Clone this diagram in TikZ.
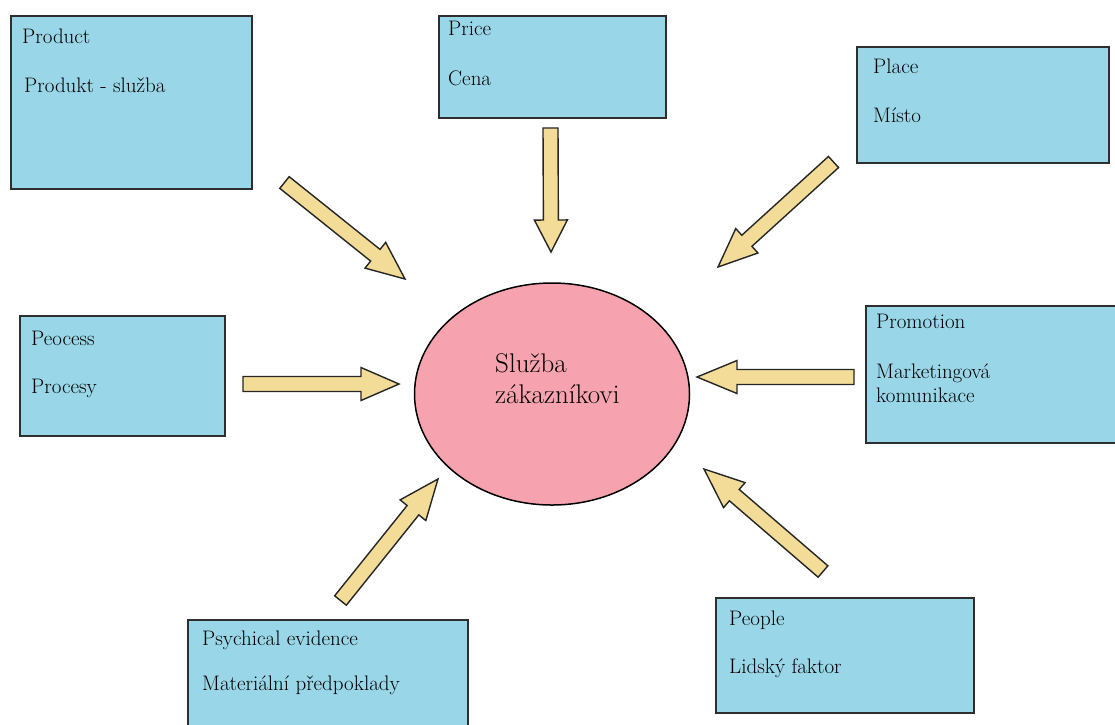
\documentclass[tikz,border=0pt]{standalone}
\usepackage{fontspec}
\usetikzlibrary{calc}
\definecolor{boxfill}{HTML}{98D6E8}
\definecolor{arrfill}{HTML}{F2DC98}
\definecolor{ellfill}{HTML}{F7A3AF}
\definecolor{edgecol}{HTML}{2E2E2E}
\tikzset{
  boxnode/.style={draw=edgecol, line width=1.5pt, fill=boxfill, anchor=north west, inner sep=0pt},
  txt/.style={anchor=base west, inner sep=0pt, font=\fontsize{21}{25}\selectfont, text=black},
  bigtxt/.style={anchor=base west, inner sep=0pt, font=\fontsize{27}{32}\selectfont, text=black},
  blockarr/.style={draw=black!85, line width=1.4pt, fill=arrfill, line join=miter}
}
\newcommand\blockarrow[3]{%
  \coordinate (neck) at ($(#2)!#3!(#1)$);
  \draw[blockarr] ($(#1)!7.5pt!90:(#2)$) -- ($(neck)!7.5pt!90:(#2)$) -- ($(neck)!16.5pt!90:(#2)$)
    -- (#2) -- ($(neck)!16.5pt!-90:(#2)$) -- ($(neck)!7.5pt!-90:(#2)$) -- ($(#1)!7.5pt!-90:(#2)$) -- cycle;
}
\begin{document}
\begin{tikzpicture}[x=1pt, y=-1pt]
\useasboundingbox (0,0) rectangle (1115,724);
\fill[white] (0,0) rectangle (1115,724);

% boxes
\node[boxnode, minimum width=241pt, minimum height=173pt] (product) at (10,15) {};
\node[boxnode, minimum width=227pt, minimum height=102pt] (price) at (438,15) {};
\node[boxnode, minimum width=252pt, minimum height=116pt] (place) at (856,46) {};
\node[boxnode, minimum width=205pt, minimum height=120pt] (process) at (19,315) {};
\node[boxnode, minimum width=260pt, minimum height=137pt] (promotion) at (865,305) {};
\node[boxnode, minimum width=280pt, minimum height=115pt] (psych) at (187,619) {};
\node[boxnode, minimum width=258pt, minimum height=115pt] (people) at (715,597) {};

% centre
\draw[draw=black, line width=1.5pt, fill=ellfill] (552,394) ellipse [x radius=137.5, y radius=111];
\coordinate (centre) at (552,394);

% texts
\node[txt] (t1a) at (22,43) {Product};
\node[txt] (t1b) at (24,92) {Produkt - služba};
\node[txt] (t2a) at (448,35) {Price};
\node[txt] (t2b) at (448,85) {Cena};
\node[txt] (t3a) at (873,73) {Place};
\node[txt] (t3b) at (873,122) {Místo};
\node[txt] (t4a) at (31,345) {Peocess};
\node[txt] (t4b) at (31,393) {Procesy};
\node[txt] (t5a) at (876,328) {Promotion};
\node[txt] (t5b) at (876,378) {Marketingová};
\node[txt] (t5c) at (876,402) {komunikace};
\node[txt] (t6a) at (202,645) {Psychical evidence};
\node[txt] (t6b) at (202,690) {Materiální předpoklady};
\node[txt] (t7a) at (729,625) {People};
\node[txt] (t7b) at (729,673) {Lidský faktor};
\node[bigtxt] (c1) at (495,372) {Služba};
\node[bigtxt] (c2) at (495,403) {zákazníkovi};

% arrow end points
\coordinate (a1t) at (284.5,182.5); \coordinate (a1h) at (405,279);
\coordinate (a2t) at (550.5,128);   \coordinate (a2h) at (551,252);
\coordinate (a3t) at (833.5,162);   \coordinate (a3h) at (718,267);
\coordinate (a4t) at (243,384);     \coordinate (a4h) at (399,384);
\coordinate (a5t) at (854,377);     \coordinate (a5h) at (697,377);
\coordinate (a6t) at (340.5,600.5); \coordinate (a6h) at (438,479);
\coordinate (a7t) at (823,571.5);   \coordinate (a7h) at (704,469);

\blockarrow{a1t}{a1h}{38pt}
\blockarrow{a2t}{a2h}{32pt}
\blockarrow{a3t}{a3h}{39pt}
\blockarrow{a4t}{a4h}{38pt}
\blockarrow{a5t}{a5h}{40pt}
\blockarrow{a6t}{a6h}{40pt}
\blockarrow{a7t}{a7h}{40pt}
\end{tikzpicture}
\end{document}
